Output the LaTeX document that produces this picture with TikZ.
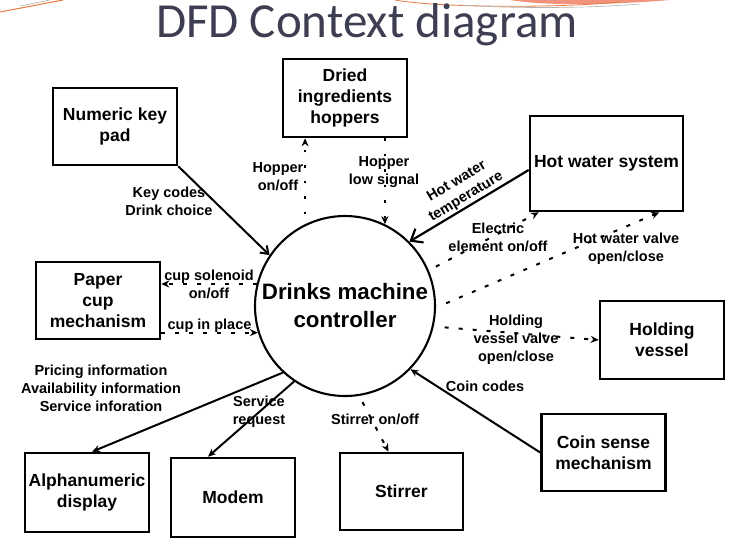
\documentclass[tikz,border=0pt]{standalone}
\usepackage{fontspec}
\setmainfont{Liberation Sans}
\newfontfamily\titlefont{Carlito}
\usepackage{xcolor}
\usepackage{tikz}
\usetikzlibrary{arrows.meta, positioning}

\definecolor{titlegrey}{RGB}{62,62,82}
\definecolor{slideorange}{RGB}{232,122,64}
\definecolor{slidesalmon}{RGB}{240,146,124}

\begin{document}
\begin{tikzpicture}[
          x=1pt, y=-1pt,
          entity/.style={draw, line width=2.6pt, align=center, minimum width=124pt, minimum height=78pt, inner sep=2pt, font=\fontsize{17.5}{21}\selectfont\bfseries},
          process/.style={circle, draw, line width=2.1pt, minimum size=180pt, align=center, font=\fontsize{22.3}{28}\selectfont\bfseries},
          flowlabel/.style={align=center, inner sep=1pt, font=\fontsize{14.5}{18}\selectfont\bfseries},
          dataflow/.style={line width=2pt, -{Stealth[length=8pt, width=7pt]}},
          controlflow/.style={line width=2pt, dash pattern=on 4pt off 10pt, -{Stealth[length=8pt, width=7pt]}},
          dotflow/.style={controlflow, dash pattern=on 2.5pt off 13pt}
        ]
          \useasboundingbox[fill=white] (0,0) rectangle (749,539);
          % slide decoration
          \draw[slideorange, line width=1pt] (0,12) -- (63,0);
          \draw[gray!60, line width=0.6pt] (20,6) -- (50,0);
          \fill[slidesalmon] (510,0) .. controls (545,6) and (610,5) .. (670,0) -- cycle;
          \draw[slideorange, line width=0.8pt] (395,0) .. controls (440,8) and (560,8) .. (620,2);
          \draw[gray!60, line width=0.6pt] (460,5) .. controls (520,9) and (590,8) .. (640,4);
          \node[font=\titlefont\fontsize{49}{49}\selectfont, text=titlegrey, anchor=base, inner sep=0pt, text height=31pt, text depth=10pt] (title) at (367,37) {DFD Context diagram};

          % external entities
          \node[entity, minimum height=77pt] (keypad) at (115,126.5) {Numeric key\\pad};
          \node[entity] (hoppers) at (345,98) {Dried\\ingredients\\hoppers};
          \node[entity, minimum width=153pt, minimum height=95pt] (hotwater) at (606.5,163.5) {Hot water system};
          \node[entity, minimum height=77pt] (papercup) at (98,300.5) {Paper\\cup\\mechanism};
          \node[entity] (holding) at (662,340) {Holding\\vessel};
          \node[entity, minimum height=77pt] (coinsense) at (603.5,452.5) {Coin sense\\mechanism};
          \node[entity, minimum height=79pt] (alphadisplay) at (87,492.5) {Alphanumeric\\display};
          \node[entity, minimum height=79pt] (modem) at (233,497.5) {Modem};
          \node[entity, minimum width=123pt, minimum height=77pt] (stirrer) at (401.5,491.5) {Stirrer};

          % the process
          \node[process] (ctrl) at (345,306) {Drinks machine\\controller};

          % flows
          \draw[dataflow, -{Straight Barb[length=7pt, width=10pt]}] (keypad.south east) -- (ctrl.146);
          \draw[dotflow, shorten <=10pt] (ctrl.116) -- (ctrl.116 |- hoppers.south);
          \draw[dotflow] (ctrl.64 |- hoppers.south) -- (ctrl.64);
          \draw[dataflow, line width=2.2pt, -{Straight Barb[length=10pt, width=16pt]}] ([yshift=-6.5pt]hotwater.west) -- (ctrl.45);
          \draw[controlflow, shorten <=8pt] (ctrl.23) -- ([xshift=10pt]hotwater.south west);
          \draw[controlflow, shorten <=11pt] (ctrl.-1) -- ([xshift=-25pt]hotwater.south east);
          \draw[controlflow, shorten <=11pt] (ctrl.-13) -- (holding.west);
          \draw[dataflow] (coinsense.west) -- (ctrl.-44);
          \draw[controlflow, shorten <=7pt] (ctrl.-81) -- ([xshift=-13pt]stirrer.north);
          \draw[dataflow] (ctrl.236) -- ([xshift=-25pt]modem.north);
          \draw[dataflow] (ctrl.227) -- ([xshift=5pt]alphadisplay.north);
          \draw[controlflow] (ctrl.166) -- (ctrl.166 -| papercup.east);
          \draw[controlflow] (ctrl.197 -| papercup.east) -- (ctrl.197);

          % flow labels
          \node[flowlabel] (keycodes) at (169,201) {Key codes\\Drink choice};
          \node[flowlabel] (hopperonoff) at (278,176.5) {Hopper\\on/off};
          \node[flowlabel] (hopperlow) at (384,172) {Hopper\\low signal};
          \node[flowlabel, rotate=31] (watertemp) at (461.5,189.5) {Hot water\\temperature};
          \node[flowlabel] (element) at (498,237) {Electric\\element on/off};
          \node[flowlabel] (watervalve) at (626,248.5) {Hot water valve\\open/close};
          \node[flowlabel] (vesselvalve) at (516,340) {Holding\\vessel valve\\open/close};
          \node[flowlabel] (coincodes) at (485,386) {Coin codes};
          \node[flowlabel] (stirreronoff) at (375,419) {Stirrer on/off};
          \node[flowlabel] (servicereq) at (259,411.5) {Service\\request};
          \node[flowlabel] (displayinfo) at (101,388) {Pricing information\\Availability information\\Service inforation};
          \node[flowlabel] (solenoid) at (209,284) {cup solenoid\\on/off};
          \node[flowlabel] (cupinplace) at (209.5,326) {cup in place};
        \end{tikzpicture}
\end{document}
